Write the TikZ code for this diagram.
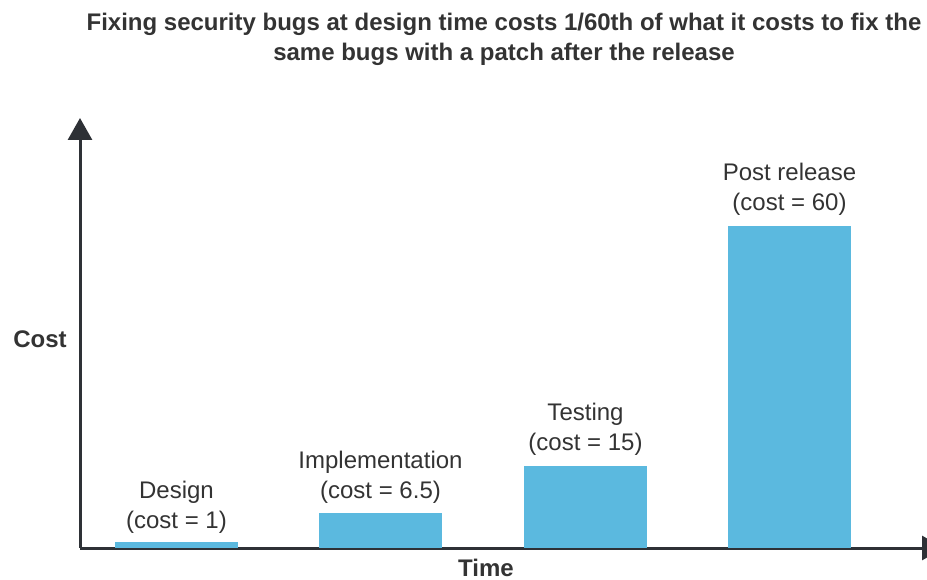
\documentclass[tikz,border=0pt]{standalone}
\usepackage{fontspec}
\setmainfont{Liberation Sans}
\usetikzlibrary{arrows.meta}
\definecolor{barblue}{HTML}{5BB9DF}
\definecolor{axisgray}{HTML}{2E3136}
\definecolor{txtgray}{HTML}{333333}
\tikzset{
  bar/.style={fill=barblue, draw=none, minimum width=123pt, inner sep=0pt, anchor=south},
  lbl/.style={text=txtgray, align=center, font=\fontsize{24}{30}\selectfont, inner sep=0pt},
  axislbl/.style={text=txtgray, font=\bfseries\fontsize{24}{26}\selectfont, inner sep=0pt},
  axisline/.style={draw=axisgray, line width=3pt, -{Triangle[width=24pt,length=22pt]}}
}
\begin{document}
\begin{tikzpicture}[x=1pt,y=-1pt]
\useasboundingbox (0,0) rectangle (927,580);
\clip (0,0) rectangle (927,580);
% title
\node[text=txtgray, align=center, font=\bfseries\fontsize{24}{30}\selectfont, inner sep=0pt] (title) at (504,39)
  {Fixing security bugs at design time costs 1/60th of what it costs to fix the\\
   same bugs with a patch after the release};
% axes
\coordinate (origin) at (80,548);
\coordinate (ytip) at (80,118);
\coordinate (xtip) at (944,548);
\draw[axisline] (origin) -- (ytip);
\draw[axisline] (origin) -- (xtip);
% bars
\node[bar, minimum height=6pt] (b1) at (176.5,548) {};
\node[bar, minimum height=35pt] (b2) at (380.5,548) {};
\node[bar, minimum height=82pt] (b3) at (585.5,548) {};
\node[bar, minimum height=322pt] (b4) at (789.5,548) {};
% labels
\node[lbl] (l1) at (176.5,507) {Design\\(cost = 1)};
\node[lbl] (l2) at (380.5,477) {Implementation\\(cost = 6.5)};
\node[lbl] (l3) at (585.5,429) {Testing\\(cost = 15)};
\node[lbl] (l4) at (789.5,189) {Post release\\(cost = 60)};
% axis labels
\node[axislbl] (cost) at (40,339) {Cost};
\node[axislbl] (time) at (486,567.5) {Time};
\end{tikzpicture}
\end{document}
